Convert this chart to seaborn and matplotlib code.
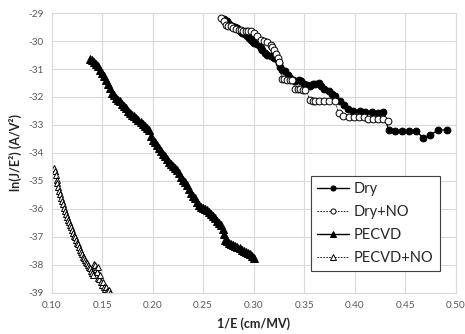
import pandas as pd
import seaborn as sns
import matplotlib.pyplot as plt

# Dry (filled circles)
dry_x = [0.2708, 0.2735, 0.2760, 0.2789, 0.2815, 0.2838, 0.2862, 0.2887, 0.2910, 0.2937,
         0.2955, 0.2970, 0.2990, 0.3003, 0.3030, 0.3052, 0.3070, 0.3084, 0.3110, 0.3134,
         0.3167, 0.3200, 0.3232, 0.3249, 0.3265, 0.3281, 0.3315, 0.3340, 0.3364, 0.3390,
         0.3413, 0.3446, 0.3470, 0.3495, 0.3528, 0.3561, 0.3590, 0.3610, 0.3643, 0.3665,
         0.3692, 0.3741, 0.3775, 0.3807, 0.3857, 0.3899, 0.3938, 0.3988, 0.4053, 0.4103,
         0.4168, 0.4227, 0.4283, 0.4335, 0.4400, 0.4470, 0.4540, 0.4610, 0.4680, 0.4750,
         0.4826, 0.4910]
dry_y = [-29.21, -29.30, -29.38, -29.48, -29.50, -29.55, -29.63, -29.71, -29.76, -29.83,
         -29.90, -29.95, -30.02, -30.07, -30.10, -30.15, -30.24, -30.31, -30.42, -30.49,
         -30.55, -30.60, -30.66, -30.78, -30.92, -31.02, -31.08, -31.20, -31.32, -31.40,
         -31.44, -31.40, -31.42, -31.55, -31.58, -31.61, -31.55, -31.53, -31.50, -31.62,
         -31.73, -31.79, -31.88, -31.97, -32.15, -32.30, -32.44, -32.50, -32.50, -32.52,
         -32.52, -32.56, -32.52, -33.17, -33.23, -33.23, -33.23, -33.23, -33.46, -33.35,
         -33.19, -33.17]

# Dry+NO (open circles)
dryno_x = [0.2678, 0.2708, 0.2724, 0.2750, 0.2773, 0.2800, 0.2822, 0.2850, 0.2871, 0.2895,
           0.2921, 0.2945, 0.2970, 0.3003, 0.3035, 0.3068, 0.3101, 0.3134, 0.3167, 0.3185,
           0.3200, 0.3222, 0.3240, 0.3249, 0.3281, 0.3305, 0.3330, 0.3355, 0.3380, 0.3413,
           0.3440, 0.3462, 0.3490, 0.3512, 0.3561, 0.3590, 0.3610, 0.3650, 0.3700, 0.3750,
           0.3807, 0.3840, 0.3889, 0.3940, 0.3990, 0.4040, 0.4090, 0.4130, 0.4180, 0.4230,
           0.4280, 0.4325]
dryno_y = [-29.17, -29.30, -29.42, -29.45, -29.48, -29.52, -29.57, -29.60, -29.62, -29.65,
           -29.66, -29.66, -29.66, -29.71, -29.83, -29.95, -30.01, -30.05, -30.13, -30.22,
           -30.31, -30.45, -30.60, -30.75, -31.35, -31.37, -31.38, -31.39, -31.40, -31.73,
           -31.73, -31.73, -31.75, -31.76, -32.11, -32.15, -32.15, -32.15, -32.15, -32.15,
           -32.15, -32.56, -32.68, -32.70, -32.70, -32.70, -32.72, -32.79, -32.79, -32.79,
           -32.79, -32.87]

# PECVD (filled triangles)
pecvd_x = [0.138, 0.140, 0.142, 0.144, 0.146, 0.148, 0.150, 0.152, 0.154, 0.156,
           0.158, 0.160, 0.162, 0.164, 0.166, 0.168, 0.170, 0.172, 0.174, 0.176,
           0.178, 0.180, 0.182, 0.184, 0.186, 0.188, 0.190, 0.192, 0.194, 0.196,
           0.198, 0.200, 0.202, 0.204, 0.206, 0.208, 0.210, 0.212, 0.214, 0.216,
           0.218, 0.220, 0.222, 0.224, 0.226, 0.228, 0.230, 0.232, 0.234, 0.236,
           0.238, 0.240, 0.242, 0.244, 0.246, 0.248, 0.250, 0.252, 0.254, 0.256,
           0.258, 0.260, 0.262, 0.264, 0.266, 0.268, 0.270, 0.271, 0.272, 0.274,
           0.276, 0.278, 0.280, 0.282, 0.284, 0.286, 0.288, 0.290, 0.292, 0.294,
           0.296, 0.298, 0.300]
pecvd_y = [-30.64, -30.68, -30.74, -30.82, -30.91, -31.02, -31.14, -31.24, -31.38, -31.52,
           -31.68, -31.84, -31.94, -32.02, -32.09, -32.16, -32.24, -32.31, -32.38, -32.50,
           -32.58, -32.63, -32.69, -32.74, -32.81, -32.88, -32.95, -33.02, -33.10, -33.18,
           -33.38, -33.52, -33.62, -33.70, -33.82, -33.92, -34.03, -34.12, -34.22, -34.31,
           -34.39, -34.46, -34.53, -34.62, -34.72, -34.85, -34.96, -35.05, -35.16, -35.30,
           -35.42, -35.52, -35.62, -35.74, -35.86, -35.92, -35.96, -35.99, -36.05, -36.12,
           -36.19, -36.26, -36.33, -36.44, -36.50, -36.58, -36.70, -36.90, -37.10, -37.16,
           -37.20, -37.24, -37.28, -37.32, -37.36, -37.40, -37.45, -37.50, -37.54, -37.58,
           -37.62, -37.68, -37.74]

# PECVD+NO (open triangles)
pecvdno_x = [0.1026, 0.1035, 0.1043, 0.1050, 0.1058, 0.1066, 0.1075, 0.1083, 0.1092, 0.1100,
             0.1110, 0.1120, 0.1130, 0.1140, 0.1150, 0.1160, 0.1170, 0.1180, 0.1190, 0.1200,
             0.1210, 0.1220, 0.1230, 0.1240, 0.1250, 0.1260, 0.1270, 0.1280, 0.1290, 0.1300,
             0.1310, 0.1320, 0.1330, 0.1340, 0.1350, 0.1360, 0.1370, 0.1380, 0.1390, 0.1400,
             0.1410, 0.1420, 0.1430, 0.1440, 0.1450, 0.1455, 0.1460, 0.1470, 0.1480, 0.1490,
             0.1500, 0.1510, 0.1520, 0.1530, 0.1540, 0.1550, 0.1560, 0.1570, 0.1580]
pecvdno_y = [-34.53, -34.66, -34.80, -34.95, -35.08, -35.22, -35.36, -35.48, -35.60, -35.72,
             -35.84, -35.96, -36.08, -36.18, -36.28, -36.38, -36.48, -36.57, -36.66, -36.76,
             -36.86, -36.95, -37.02, -37.10, -37.20, -37.27, -37.36, -37.46, -37.54, -37.62,
             -37.70, -37.77, -37.82, -37.88, -37.94, -38.00, -38.06, -38.12, -38.20, -38.30,
             -38.36, -37.98, -38.02, -38.14, -38.26, -38.08, -38.46, -38.52, -38.36, -38.62,
             -38.70, -38.60, -38.78, -38.86, -38.80, -38.92, -38.96, -38.90, -39.00]

x_ticks = [0.10, 0.15, 0.20, 0.25, 0.30, 0.35, 0.40, 0.45, 0.50]
y_ticks = [-29, -30, -31, -32, -33, -34, -35, -36, -37, -38, -39]

sns.set_style('whitegrid', {'grid.color': '#d9d9d9', 'axes.edgecolor': '#d9d9d9'})
plt.rcParams['font.family'] = ['Lato', 'DejaVu Sans']

fig, ax = plt.subplots(figsize=(4.65, 3.34), dpi=100)
fig.subplots_adjust(left=0.111, right=0.980, top=0.961, bottom=0.123)

series = [
    ('Dry', dry_x, dry_y, 'o', 'black', '-', 1.0, 4.9),
    ('Dry+NO', dryno_x, dryno_y, 'o', 'white', (0, (2, 1.5)), 0.6, 4.9),
    ('PECVD', pecvd_x, pecvd_y, '^', 'black', '-', 1.0, 5.3),
    ('PECVD+NO', pecvdno_x, pecvdno_y, '^', 'white', (0, (2, 1.5)), 0.6, 5.0),
]
for nombre, xs, ys, marca, relleno, estilo, ancho, tam in series:
    df = pd.DataFrame({'x': xs, 'y': ys})
    sns.lineplot(data=df, x='x', y='y', ax=ax, sort=False, estimator=None,
                 color='black', linestyle=estilo, linewidth=ancho,
                 marker=marca, markersize=tam, markerfacecolor=relleno,
                 markeredgecolor='black', markeredgewidth=0.7, label=nombre)

ax.set_xlim(0.10, 0.50)
ax.set_ylim(-39, -29)
ax.set_xticks(x_ticks)
ax.set_yticks(y_ticks)
ax.set_xticklabels([f'{t:.2f}' for t in x_ticks])
ax.set_yticklabels([str(t) for t in y_ticks])
ax.tick_params(axis='both', labelsize=7.2, colors='#595959', length=0, pad=6)
ax.grid(True, color='#d9d9d9', linewidth=0.8)
ax.set_xlabel('1/E (cm/MV)', fontsize=9, fontweight='bold', color='#262626', labelpad=5)
ax.set_ylabel('ln(J/E²) (A/V²)', fontsize=9, fontweight='bold', color='#262626', labelpad=4)

leg = ax.legend(loc='upper left', bbox_to_anchor=(0.641, 0.418), borderaxespad=0,
                fontsize=10.5, frameon=True, fancybox=False, framealpha=1,
                edgecolor='#404040', handlelength=2.2, labelspacing=0.6,
                borderpad=0.45, handletextpad=0.3, markerscale=0.75)
leg.get_frame().set_linewidth(0.8)

fig.savefig('out.png', dpi=100)
